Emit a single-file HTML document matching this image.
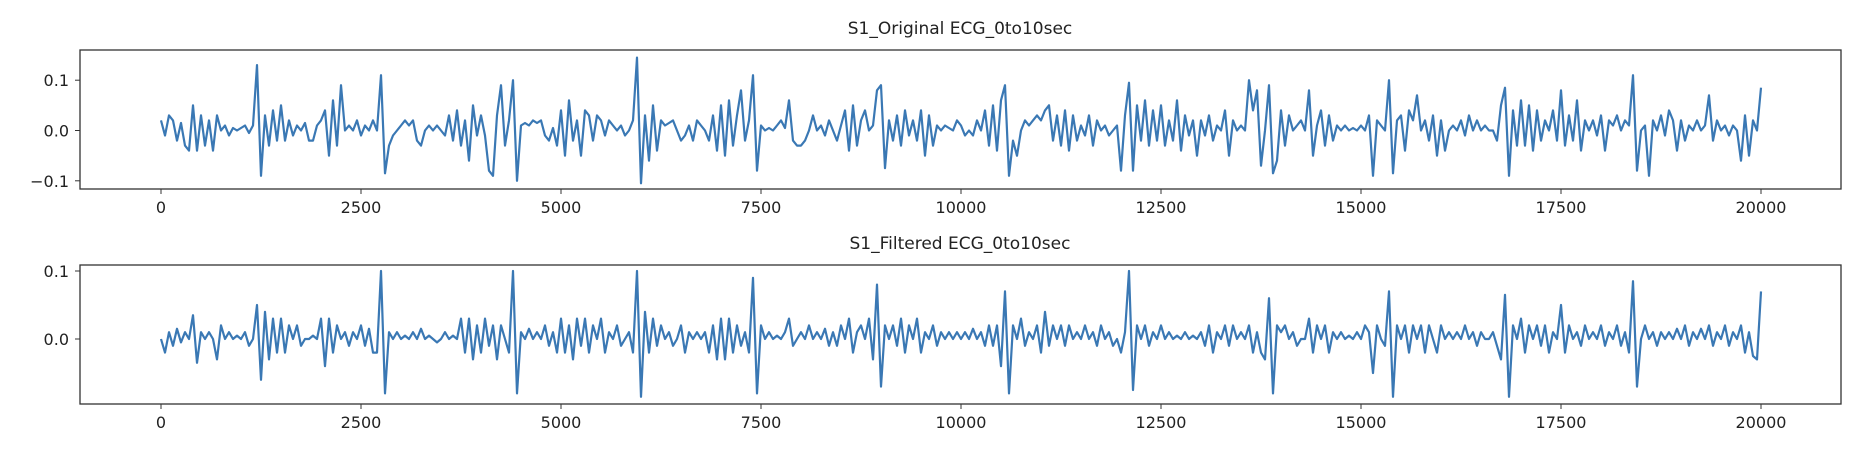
<!DOCTYPE html>
<html><head><meta charset="utf-8"><style>
body{margin:0;background:#fff;}
svg{display:block;font-family:"DejaVu Sans","Liberation Sans",sans-serif;}
</style></head><body>
<svg id="chart" width="1860" height="450" viewBox="0 0 1860 450"></svg>
<script>
const xTicks=[0,2500,5000,7500,10000,12500,15000,17500,20000];
const xTickLabels=["0","2500","5000","7500","10000","12500","15000","17500","20000"];
const topYTicks=[0.1,0.0,-0.1];
const topYTickLabels=["0.1","0.0","\u22120.1"];
const botYTicks=[0.1,0.0];
const botYTickLabels=["0.1","0.0"];
const sampleStep=50;
const originalValues=[
0.02,-0.01,0.03,0.02,-0.02,0.015,-0.03,-0.04,0.05,-0.04,0.03,-0.03,0.02,-0.04,0.03,0.00,0.01,-0.01,0.005,0.00,
0.005,0.01,-0.005,0.01,0.13,-0.09,0.03,-0.03,0.04,-0.02,0.05,-0.02,0.02,-0.01,0.01,0.00,0.015,-0.02,-0.02,0.01,
0.02,0.04,-0.05,0.06,-0.03,0.09,0.00,0.01,0.00,0.02,-0.01,0.01,0.00,0.02,0.00,0.11,-0.085,-0.03,-0.01,0.00,
0.01,0.02,0.01,0.02,-0.02,-0.03,0.00,0.01,0.00,0.01,0.00,-0.01,0.03,-0.02,0.04,-0.03,0.02,-0.06,0.05,-0.01,
0.03,-0.01,-0.08,-0.09,0.03,0.09,-0.03,0.02,0.10,-0.10,0.01,0.015,0.01,0.02,0.015,0.02,-0.01,-0.02,0.005,-0.03,
0.04,-0.05,0.06,-0.02,0.02,-0.05,0.04,0.03,-0.02,0.03,0.02,-0.01,0.02,0.01,0.00,0.01,-0.01,0.00,0.02,0.145,
-0.105,0.03,-0.06,0.05,-0.04,0.02,0.01,0.015,0.02,0.00,-0.02,-0.01,0.01,-0.02,0.02,0.01,0.00,-0.02,0.03,-0.04,
0.05,-0.05,0.06,-0.03,0.03,0.08,-0.02,0.02,0.11,-0.08,0.01,0.00,0.005,0.00,0.01,0.02,0.005,0.06,-0.02,-0.03,
-0.03,-0.02,0.00,0.03,0.00,0.01,-0.01,0.02,0.00,-0.02,0.01,0.04,-0.04,0.05,-0.03,0.02,0.04,0.00,0.01,0.08,
0.09,-0.075,0.02,-0.02,0.03,-0.03,0.04,-0.01,0.02,-0.02,0.04,-0.05,0.03,-0.03,0.01,0.00,0.01,0.005,0.00,0.02,
0.01,-0.01,0.00,-0.01,0.02,0.00,0.04,-0.03,0.05,-0.04,0.06,0.09,-0.09,-0.02,-0.05,0.00,0.02,0.01,0.02,0.03,
0.02,0.04,0.05,-0.02,0.03,-0.03,0.04,-0.04,0.03,-0.02,0.01,-0.01,0.03,-0.03,0.02,0.00,0.01,-0.01,0.00,0.01,
-0.08,0.03,0.095,-0.08,0.05,-0.02,0.06,-0.03,0.04,-0.02,0.05,-0.03,0.02,-0.02,0.06,-0.04,0.03,-0.01,0.02,-0.05,
0.02,-0.01,0.03,-0.02,0.01,0.00,0.04,-0.05,0.02,0.00,0.01,0.00,0.10,0.04,0.08,-0.07,0.00,0.09,-0.085,-0.06,
0.04,-0.03,0.03,0.00,0.01,0.02,0.00,0.08,-0.05,0.01,0.04,-0.03,0.03,-0.02,0.01,0.00,0.01,0.00,0.005,0.00,
0.01,0.00,0.03,-0.09,0.02,0.01,0.00,0.10,-0.085,0.02,0.03,-0.04,0.04,0.02,0.07,0.00,0.02,-0.02,0.03,-0.05,
0.02,-0.04,0.00,0.01,0.00,0.02,-0.01,0.03,0.00,0.02,0.00,0.01,0.00,0.00,-0.02,0.05,0.085,-0.09,0.04,-0.03,
0.06,-0.03,0.05,-0.04,0.04,-0.02,0.02,0.00,0.04,-0.02,0.08,-0.03,0.03,-0.02,0.06,-0.04,0.02,0.00,0.02,-0.01,
0.03,-0.04,0.02,0.01,0.03,0.00,0.02,0.01,0.11,-0.08,0.00,0.01,-0.09,0.02,0.00,0.03,-0.01,0.04,0.02,-0.04,
0.02,-0.02,0.01,0.00,0.02,0.00,0.01,0.07,-0.02,0.02,0.00,0.01,-0.01,0.01,0.00,-0.06,0.03,-0.05,0.02,0.00,
0.085];
const filteredValues=[
0.00,-0.02,0.01,-0.01,0.015,-0.005,0.01,0.00,0.035,-0.035,0.01,0.00,0.01,0.00,-0.03,0.02,0.00,0.01,0.00,0.005,
0.00,0.01,-0.01,0.00,0.05,-0.06,0.04,-0.03,0.03,-0.02,0.03,-0.02,0.02,0.00,0.02,-0.01,0.00,0.00,0.005,0.00,
0.03,-0.04,0.03,-0.02,0.02,0.00,0.01,-0.01,0.01,0.00,0.02,-0.01,0.015,-0.02,-0.02,0.10,-0.08,0.01,0.00,0.01,
0.00,0.005,0.00,0.01,0.00,0.015,0.00,0.005,0.00,-0.005,0.00,0.01,0.00,0.005,0.00,0.03,-0.02,0.03,-0.03,0.02,
-0.02,0.03,-0.01,0.02,-0.03,0.02,0.00,-0.02,0.10,-0.08,0.01,0.00,0.015,0.00,0.01,0.00,0.02,-0.01,0.01,-0.02,
0.03,-0.02,0.02,-0.03,0.03,-0.01,0.03,-0.02,0.02,0.00,0.03,-0.02,0.01,0.00,0.02,-0.01,0.00,0.01,-0.02,0.10,
-0.085,0.04,-0.02,0.03,-0.01,0.02,0.00,0.01,-0.01,0.00,0.02,-0.02,0.01,0.00,0.01,0.00,0.01,-0.02,0.02,-0.03,
0.03,-0.03,0.03,-0.02,0.02,-0.01,0.01,-0.02,0.09,-0.08,0.02,0.00,0.01,0.00,0.005,0.00,0.01,0.03,-0.01,0.00,
0.01,0.00,0.02,0.00,0.01,0.00,0.015,-0.01,0.01,-0.01,0.02,0.00,0.03,-0.02,0.01,0.02,0.00,0.03,-0.03,0.08,
-0.07,0.02,0.00,0.02,-0.01,0.03,-0.02,0.02,0.00,0.03,-0.02,0.01,0.00,0.02,-0.01,0.01,0.00,0.01,0.00,0.01,
0.00,0.01,0.00,0.015,0.00,0.01,-0.01,0.02,-0.01,0.02,-0.04,0.07,-0.08,0.02,0.00,0.03,-0.01,0.01,0.00,0.02,
-0.02,0.04,-0.01,0.02,0.00,0.02,-0.01,0.02,0.00,0.01,0.00,0.02,0.00,0.01,-0.01,0.02,0.00,0.01,-0.01,0.00,
-0.02,0.01,0.10,-0.075,0.02,0.00,0.02,-0.01,0.01,0.00,0.02,0.00,0.01,0.00,0.005,0.00,0.01,0.00,0.005,0.00,
0.01,-0.01,0.02,-0.02,0.01,0.00,0.02,-0.01,0.02,0.00,0.01,0.00,0.02,-0.02,0.01,-0.02,-0.03,0.06,-0.08,0.02,
0.01,0.02,0.00,0.01,-0.01,0.00,0.00,0.03,-0.02,0.02,0.00,0.02,-0.02,0.01,0.00,0.01,0.00,0.005,0.00,0.01,
0.00,0.02,0.01,-0.05,0.02,0.00,-0.01,0.07,-0.085,0.02,0.00,0.02,-0.02,0.02,0.00,0.02,-0.02,0.02,0.00,-0.02,
0.02,0.00,0.01,0.00,0.01,0.00,0.02,0.00,0.01,-0.01,0.01,0.00,0.00,0.01,-0.01,-0.03,0.065,-0.085,0.02,0.00,
0.03,-0.02,0.02,0.00,0.02,-0.01,0.02,-0.02,0.01,0.00,0.05,-0.02,0.02,0.00,0.01,-0.01,0.02,0.00,0.01,0.00,
0.02,-0.01,0.01,0.00,0.02,-0.01,0.01,-0.02,0.085,-0.07,0.00,0.02,0.00,0.01,-0.01,0.01,0.00,0.01,0.00,0.015,
0.00,0.02,-0.01,0.01,0.00,0.015,0.00,0.02,-0.01,0.01,0.00,0.02,-0.01,0.01,0.00,0.02,-0.02,0.01,-0.025,-0.03,
0.07];

const NS="http://www.w3.org/2000/svg";
const svg=document.getElementById('chart');
function mk(tag,attrs,parent){const e=document.createElementNS(NS,tag);for(const k in attrs)e.setAttribute(k,attrs[k]);(parent||svg).appendChild(e);return e;}
const xScale=v=>161+(v/20000)*1600;

function panel(cfg){
  const g=mk('g',{});
  
  
  const yScale=v=>cfg.zeroY-v*cfg.pxPer;
  const t=mk('text',{x:960,y:cfg.top-16,'text-anchor':'middle','font-size':'17',fill:'#222'},g);
  t.textContent=cfg.title;
  
  
  let d='';
  cfg.values.forEach((v,i)=>{d+=(i?'L':'M')+xScale(i*sampleStep).toFixed(1)+' '+yScale(v).toFixed(1);});
  const line=mk('path',{d:d,fill:'none',stroke:'#3a78b4','stroke-width':'2.2','stroke-linejoin':'round'},g);
  
  
  const frame=mk('rect',{x:80,y:cfg.top,width:1761,height:cfg.bottom-cfg.top,fill:'none',stroke:'#333','stroke-width':'1.3'},g);
  
  
  xTicks.forEach((v,i)=>{
    const x=xScale(v);
    mk('line',{x1:x,x2:x,y1:cfg.bottom,y2:cfg.bottom+5,stroke:'#333','stroke-width':'1'},g);
    const tl=mk('text',{x:x,y:cfg.bottom+24,'text-anchor':'middle','font-size':'16',fill:'#222'},g);
    tl.textContent=xTickLabels[i];
    
    
  });
  cfg.yTicks.forEach((v,i)=>{
    const y=yScale(v);
    mk('line',{x1:75,x2:80,y1:y,y2:y,stroke:'#333','stroke-width':'1'},g);
    const tl=mk('text',{x:69,y:y+6,'text-anchor':'end','font-size':'16',fill:'#222'},g);
    tl.textContent=cfg.yLabels[i];
    
    
  });
}
panel({name:'original-ecg-panel',title:'S1_Original ECG_0to10sec',top:50,bottom:189,zeroY:130.5,pxPer:503,values:originalValues,yTicks:topYTicks,yLabels:topYTickLabels});
panel({name:'filtered-ecg-panel',title:'S1_Filtered ECG_0to10sec',top:265,bottom:404,zeroY:339,pxPer:680,values:filteredValues,yTicks:botYTicks,yLabels:botYTickLabels});
</script>
</body></html>
